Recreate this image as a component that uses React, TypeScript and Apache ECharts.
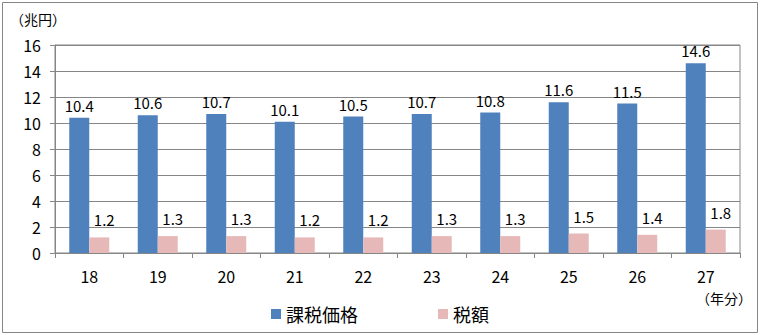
import React, { useEffect, useRef } from "react";
import * as echarts from "echarts";

const categories = ["18", "19", "20", "21", "22", "23", "24", "25", "26", "27"];
const taxableValues = [10.4, 10.6, 10.7, 10.1, 10.5, 10.7, 10.8, 11.6, 11.5, 14.6];
const taxAmounts = [1.2, 1.3, 1.3, 1.2, 1.2, 1.3, 1.3, 1.5, 1.4, 1.8];
const seriesNames = ["課税価格", "税額"];

const FONT = "'Noto Sans CJK JP', 'Noto Sans', sans-serif";

export default function App() {
  const ref = useRef<HTMLDivElement>(null);
  useEffect(() => {
    document.body.style.margin = "0";
    const chart = echarts.init(ref.current!, null, { renderer: "svg" });
    chart.setOption({
      animation: false,
      backgroundColor: "#ffffff",
      textStyle: { fontFamily: FONT, color: "#000" },
      grid: {
        left: 55,
        right: 20,
        top: 45,
        bottom: 82,
        show: true,
        borderColor: "#868686",
        borderWidth: 1,
      },
      legend: {
        bottom: 7,
        left: "center",
        itemWidth: 10,
        itemHeight: 10,
        itemGap: 80,
        icon: "rect",
        textStyle: { fontSize: 18, fontFamily: FONT, color: "#000" },
        data: seriesNames,
      },
      xAxis: {
        type: "category",
        data: categories,
        axisLine: { lineStyle: { color: "#868686" } },
        axisTick: { show: true, length: 5, lineStyle: { color: "#868686" } },
        axisLabel: { fontSize: 16, color: "#000", margin: 15, fontFamily: FONT },
      },
      yAxis: {
        type: "value",
        min: 0,
        max: 16,
        interval: 2,
        axisLine: { show: true, lineStyle: { color: "#868686" } },
        axisTick: { show: true, length: 5, lineStyle: { color: "#868686" } },
        splitLine: { lineStyle: { color: "#868686" } },
        axisLabel: { fontSize: 16, color: "#000", margin: 14, fontFamily: FONT },
      },
      graphic: [
        {
          type: "rect",
          shape: { x: 2.5, y: 2.5, width: 755, height: 330 },
          style: { fill: "none", stroke: "#868686", lineWidth: 1 },
        },
        {
          type: "text",
          left: 10,
          top: 12,
          style: { text: "（兆円）", fontSize: 14, fontFamily: FONT, fill: "#000" },
        },
        {
          type: "text",
          right: 8,
          top: 291,
          style: { text: "（年分）", fontSize: 14, fontFamily: FONT, fill: "#000" },
        },
      ],
      series: [
        {
          name: seriesNames[0],
          type: "bar",
          data: taxableValues,
          barWidth: 20,
          barGap: "0%",
          itemStyle: { color: "#4F81BD" },
          label: {
            show: true,
            position: "top",
            fontSize: 15,
            color: "#000",
            fontFamily: FONT,
            formatter: (p: any) => p.value.toFixed(1),
          },
        },
        {
          name: seriesNames[1],
          type: "bar",
          data: taxAmounts,
          barWidth: 20,
          itemStyle: { color: "#E6B9B8" },
          label: {
            show: true,
            position: "top",
            fontSize: 15,
            color: "#000",
            fontFamily: FONT,
            offset: [5, -5],
            formatter: (p: any) => p.value.toFixed(1),
          },
        },
      ],
    });
    return () => chart.dispose();
  }, []);
  return <div ref={ref} style={{ width: 760, height: 335 }} />;
}
